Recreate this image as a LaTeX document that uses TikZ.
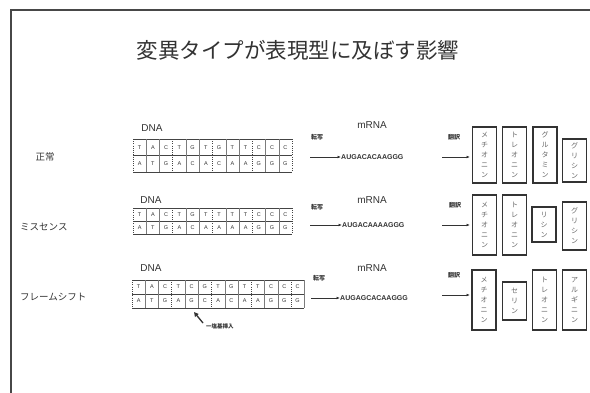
\documentclass[tikz,border=0pt]{standalone}
\usepackage{fontspec}
\setmainfont{Liberation Sans}
\newfontfamily\jp{Noto Sans CJK JP}
\usetikzlibrary{arrows.meta}
\definecolor{ink}{HTML}{333333}
\definecolor{gridc}{HTML}{444444}
\newcommand\dnagrid[6]{% x0, ytop, ybot, ncols, top list, bottom list
  \pgfmathsetmacro\ymidv{(#2+#3)/2}
  \draw[gridh] (#1,#2) -- ++(#4*13.25,0);
  \draw[gridh] (#1,\ymidv) -- ++(#4*13.25,0);
  \draw[gridh] (#1,#3) -- ++(#4*13.25,0);
  \foreach \k in {0,...,#4}{
    \pgfmathtruncatemacro\rr{mod(\k,3)}
    \ifnum\rr=0
      \draw[gridd] ({#1+\k*13.25},#2) -- ({#1+\k*13.25},#3);
    \else
      \draw[grids] ({#1+\k*13.25},#2) -- ({#1+\k*13.25},#3);
    \fi
  }
  \foreach \c [count=\i] in {#5}{
    \node[base] at ({#1+(\i-0.5)*13.25},{(#2+\ymidv)/2}) {\c};
  }
  \foreach \c [count=\i] in {#6}{
    \node[base] at ({#1+(\i-0.5)*13.25},{(#3+\ymidv)/2}) {\c};
  }
}
\begin{document}
\begin{tikzpicture}[x=1pt,y=-1pt,
  frame/.style={draw=ink!90, line width=1.6pt},
  gridh/.style={draw=gridc, line width=0.7pt},
  grids/.style={draw=gridc!70, line width=0.45pt},
  gridd/.style={draw=gridc, line width=0.8pt, dash pattern=on 1pt off 1.2pt},
  base/.style={font=\fontsize{5.5}{6}\selectfont, text=ink, inner sep=0pt},
  lbl/.style={font=\fontsize{10}{12}\selectfont, text=ink, inner sep=0pt},
  rowlbl/.style={font=\jp\fontsize{9.5}{11}\selectfont, text=ink, inner sep=0pt},
  small/.style={font=\jp\bfseries\fontsize{6}{7}\selectfont, text=ink, inner sep=0pt},
  seq/.style={font=\bfseries\fontsize{7}{8}\selectfont, text=ink, inner sep=0pt, anchor=west},
  arr/.style={-{Latex[length=3.5pt,width=2.8pt]}, draw=ink, line width=0.7pt},
  aa/.style={draw=ink, line width=1.3pt, minimum width=24pt, inner sep=0pt,
     font=\jp\fontsize{7}{10}\selectfont, text=ink!75, align=center}
]
\useasboundingbox (0,0) rectangle (590,392);
\fill[white] (0,0) rectangle (590,392);
\begin{scope}
\clip (0,0) rectangle (590,392);
\draw[frame] (11,10) rectangle (620,420);
\end{scope}

\node[font=\jp\fontsize{21.5}{24}\selectfont, text=ink] (title) at (298,50) {変異タイプが表現型に及ぼす影響};

% row labels
\node[rowlbl] (r1) at (45,157) {正常};
\node[rowlbl, anchor=west] (r2) at (20,227) {ミスセンス};
\node[rowlbl, anchor=west] (r3) at (20,297) {フレームシフト};

% DNA labels
\node[lbl] (d1) at (152,128) {DNA};
\node[lbl] (d2) at (151,200) {DNA};
\node[lbl] (d3) at (151,268) {DNA};

% grids
\dnagrid{133}{139}{172}{12}{T,A,C,T,G,T,G,T,T,C,C,C}{A,T,G,A,C,A,C,A,A,G,G,G}
\dnagrid{133}{208}{234}{12}{T,A,C,T,G,T,T,T,T,C,C,C}{A,T,G,A,C,A,A,A,A,G,G,G}
\dnagrid{132}{280}{308}{13}{T,A,C,T,C,G,T,G,T,T,C,C,C}{A,T,G,A,G,C,A,C,A,A,G,G,G}

% insertion annotation
\coordinate (ins) at (194,312);
\node[small, anchor=west, font=\jp\bfseries\fontsize{5.5}{6}\selectfont] (insl) at (206,326) {一塩基挿入};
\coordinate (inst) at (203,323);
\draw[-{Triangle[length=4.5pt,width=4.5pt]}, draw=ink, fill=ink, line width=1.3pt] (inst) -- (ins);

% mRNA labels
\node[lbl] (m1) at (372,125) {mRNA};
\node[lbl] (m2) at (372,200) {mRNA};
\node[lbl] (m3) at (372,268) {mRNA};

% transcription
\node[small] (t1) at (317,137) {転写};
\node[small] (t2) at (317,207) {転写};
\node[small] (t3) at (319,278) {転写};
\coordinate (ta1) at (310,157);
\coordinate (ta2) at (310,225);
\coordinate (ta3) at (311,298);
\node[seq] (s1) at (341,157) {AUGACACAAGGG};
\node[seq] (s2) at (342,225) {AUGACAAAAGGG};
\node[seq] (s3) at (340,298) {AUGAGCACAAGGG};
\draw[arr] (ta1) -- (s1.west);
\draw[arr] (ta2) -- (s2.west);
\draw[arr] (ta3) -- (s3.west);

% translation
\node[small] (h1) at (454,137) {翻訳};
\node[small] (h2) at (455,205) {翻訳};
\node[small] (h3) at (454,275) {翻訳};
\coordinate (ha1) at (442,157);
\coordinate (ha2) at (442,225);
\coordinate (ha3) at (442,295);
\coordinate (hb1) at (470,157);
\coordinate (hb2) at (470,225);
\coordinate (hb3) at (470,295);
\draw[arr] (ha1) -- (hb1);
\draw[arr] (ha2) -- (hb2);
\draw[arr] (ha3) -- (hb3);

% amino acids row 1
\node[aa, minimum height=56pt] (a11) at (484.5,155) {メ\\チ\\オ\\ニ\\ン};
\node[aa, minimum height=56pt] (a12) at (514.5,155) {ト\\レ\\オ\\ニ\\ン};
\node[aa, minimum height=56pt] (a13) at (545,155) {グ\\ル\\タ\\ミ\\ン};
\node[aa, minimum height=43pt] (a14) at (574.5,160.5) {グ\\リ\\シ\\ン};
% row 2
\node[aa, minimum height=60pt] (a21) at (484.5,225) {メ\\チ\\オ\\ニ\\ン};
\node[aa, minimum height=60pt] (a22) at (514.5,225) {ト\\レ\\オ\\ニ\\ン};
\node[aa, minimum height=35pt] (a23) at (544,224.5) {リ\\シ\\ン};
\node[aa, minimum height=48pt] (a24) at (574.5,226) {グ\\リ\\シ\\ン};
% row 3
\node[aa, minimum height=60pt] (a31) at (484,300) {メ\\チ\\オ\\ニ\\ン};
\node[aa, minimum height=38pt] (a32) at (514.5,301) {セ\\リ\\ン};
\node[aa, minimum height=60pt] (a33) at (544.5,300) {ト\\レ\\オ\\ニ\\ン};
\node[aa, minimum height=60pt] (a34) at (574.5,300) {ア\\ル\\ギ\\ニ\\ン};
\end{tikzpicture}
\end{document}
